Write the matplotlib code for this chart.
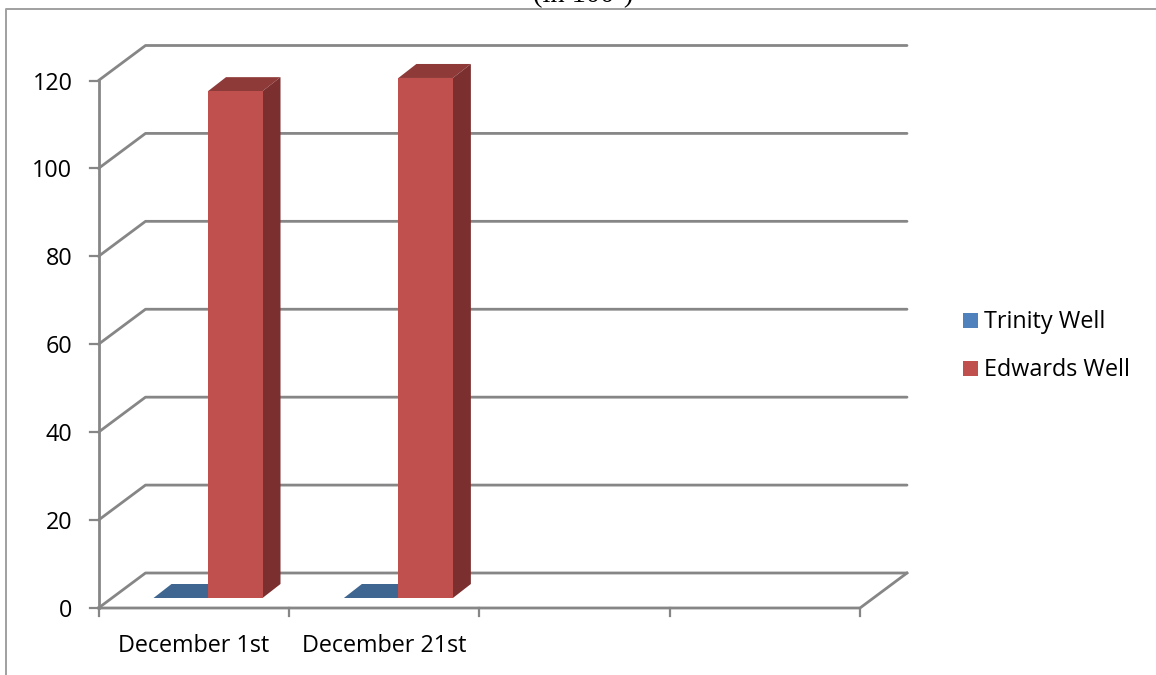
import matplotlib
matplotlib.use('Agg')
import matplotlib.pyplot as plt
from matplotlib.patches import Polygon, Rectangle

categories = ['December 1st', 'December 21st']
series_names = ['Trinity Well', 'Edwards Well']
trinity = [0, 0]
edwards = [115.3, 118.3]
yticks = [0, 20, 40, 60, 80, 100, 120]
n_slots = 4

W, H = 1156, 675
grid_c = '#868686'
face_c = {'Trinity Well': '#4f81bd', 'Edwards Well': '#c0504d'}
top_c = {'Trinity Well': '#3e6690', 'Edwards Well': '#8e3a38'}
side_c = {'Trinity Well': '#335a85', 'Edwards Well': '#7b2f2e'}
label_size = 16.8

plt.rcParams['font.family'] = ['Open Sans', 'DejaVu Sans']
fig = plt.figure(figsize=(W / 100, H / 100), dpi=100)
ax = fig.add_axes([0, 0, 1, 1])
ax.axis('off')

# axes fill the figure, limits set so slot 0..4 = 98.5..860 px and 0..120 = 608..80.5 px
x0_px = 98.5
px_x = (860 - x0_px) / n_slots
px_y = (608 - 80.5) / 120
ax.set_xlim(-x0_px / px_x, (W - x0_px) / px_x)
ax.set_ylim(-(H - 608) / px_y, 608 / px_y)

# depth of the wall / floor and of one bar, in px
dx = 47 / px_x
dy = 35 / px_y
bx = 18 / px_x
by = 14 / px_y
# bars stand in front of the back wall
base_y = 10 / px_y
bar_w = 54.5 / px_x

# wall gridlines and floor
for v in yticks:
    ax.plot([0, dx, n_slots + dx], [v, v + dy, v + dy], color=grid_c, lw=2, solid_capstyle='round', zorder=1)
    ax.plot([-9 / px_x, 0], [v, v], color=grid_c, lw=1.6, zorder=1)
    ax.text(-26 / px_x, v - 3 / px_y, str(v), ha='right', va='center', fontsize=label_size, color='black')
ax.plot([0, 0], [0, yticks[-1]], color=grid_c, lw=2, zorder=1)
ax.plot([0, n_slots, n_slots + dx], [0, 0, dy], color=grid_c, lw=2, zorder=1)
for i in range(n_slots + 1):
    ax.plot([i, i], [0, -8 / px_y], color=grid_c, lw=1.6, zorder=1)
for i, c in enumerate(categories):
    ax.text(i + 0.5, -38 / px_y, c, ha='center', va='center', fontsize=label_size, color='black')


def draw_bar(x0, val, name):
    y0 = base_y
    y1 = base_y + val
    x1 = x0 + bar_w
    ax.add_patch(Polygon([(x0, y1), (x1, y1), (x1 + bx, y1 + by), (x0 + bx, y1 + by)], fc=top_c[name], ec='none', zorder=3))
    if val > 0:
        # side goes a little under the face so no seam shows
        ax.add_patch(Polygon([(x1 - 1 / px_x, y0), (x1, y0), (x1 + bx, y0 + by), (x1 + bx, y1 + by), (x1, y1), (x1 - 1 / px_x, y1)],
                             fc=side_c[name], ec='none', zorder=3))
        ax.add_patch(Rectangle((x0, y0), bar_w, val, fc=face_c[name], ec='none', zorder=4))


for i in range(len(categories)):
    left = i + (153.5 - x0_px) / px_x
    draw_bar(left, trinity[i], series_names[0])
    draw_bar(left + bar_w, edwards[i], series_names[1])

# legend
for name, y_px in zip(series_names, [320.5, 368.5]):
    yv = (608 - y_px) / px_y
    ax.add_patch(Rectangle(((963 - x0_px) / px_x, yv - 7.5 / px_y), 15 / px_x, 15 / px_y, fc=face_c[name], ec='none'))
    ax.text((984 - x0_px) / px_x, yv - 1.5 / px_y, name, ha='left', va='center', fontsize=label_size, color='black')

# outer frame, only top and left visible
ax.plot([(6 - x0_px) / px_x, (6 - x0_px) / px_x, (W - x0_px) / px_x],
        [-(H - 608) / px_y, (608 - 8.5) / px_y, (608 - 8.5) / px_y], color='#a0a0a0', lw=1.4, zorder=1)

# title sits mostly above the picture edge, as in the source
ax.text((583.5 - x0_px) / px_x, (608 - 2) / px_y, '(in 100ʼ)', ha='center', va='baseline', fontsize=20.5,
        family='Liberation Serif', color='black', clip_on=False)

fig.savefig('out.png', dpi=100)
